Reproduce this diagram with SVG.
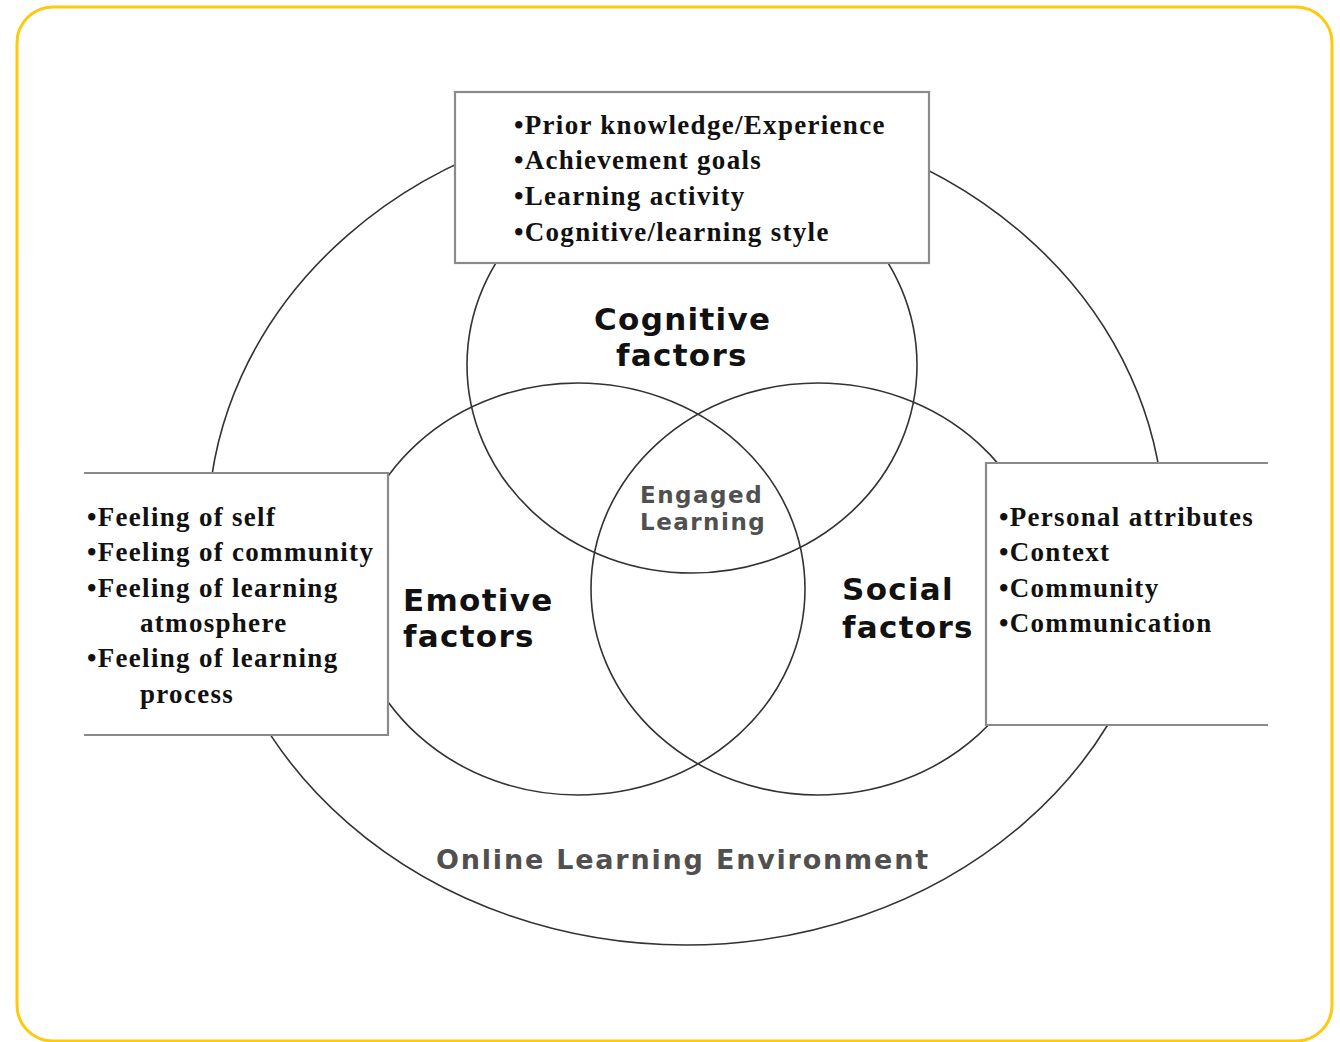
<svg xmlns="http://www.w3.org/2000/svg" width="1340" height="1042" viewBox="0 0 1340 1042">
<style>
.ring{fill:none;stroke:#333;stroke-width:1.6}
.box{fill:#fff;stroke:#8a8a8a;stroke-width:2.2}
.list{font-family:"Liberation Serif","Times New Roman",serif;font-weight:bold;font-size:27px;letter-spacing:1.3px;fill:#111}
.lab{font-family:"DejaVu Sans",Verdana,sans-serif;font-weight:bold;font-size:31px;letter-spacing:1.3px;fill:#111}
.gray{font-family:"DejaVu Sans",Verdana,sans-serif;font-weight:bold;fill:#505050}
</style>
<rect x="17" y="7" width="1315" height="1034" rx="36" fill="#fff" stroke="#FFC90E" stroke-width="3"/>
<g id="connectors">
<ellipse id="environment" class="ring" cx="686" cy="529" rx="478" ry="416"/>
<ellipse id="cognitive-circle" class="ring" cx="692" cy="365" rx="225" ry="208"/>
<ellipse id="emotive-circle" class="ring" cx="578" cy="589" rx="227" ry="206"/>
<ellipse id="social-circle" class="ring" cx="818" cy="589" rx="227" ry="206"/>
</g>
<g id="cognitive-box">
<rect class="box" x="455" y="92" width="474" height="171"/>
<text class="list"><tspan x="514" y="134">•Prior knowledge/Experience</tspan><tspan x="514" y="169">•Achievement goals</tspan><tspan x="514" y="205">•Learning activity</tspan><tspan x="514" y="241">•Cognitive/learning style</tspan></text>
</g>
<g id="emotive-box">
<path class="box" d="M84 473 H388 V735 H84"/>
<text class="list"><tspan x="87" y="526">•Feeling of self</tspan><tspan x="87" y="561">•Feeling of community</tspan><tspan x="87" y="597">•Feeling of learning</tspan><tspan x="140" y="632">atmosphere</tspan><tspan x="87" y="667">•Feeling of  learning</tspan><tspan x="140" y="703">process</tspan></text>
</g>
<g id="social-box">
<path class="box" d="M1268 463 H986 V725 H1268"/>
<text class="list"><tspan x="999" y="526">•Personal attributes</tspan><tspan x="999" y="561">•Context</tspan><tspan x="999" y="597">•Community</tspan><tspan x="999" y="632">•Communication</tspan></text>
</g>
<g id="cognitive-label"><text class="lab"><tspan x="594" y="330">Cognitive</tspan><tspan x="616" y="366">factors</tspan></text></g>
<g id="emotive-label"><text class="lab"><tspan x="403" y="611">Emotive</tspan><tspan x="403" y="647">factors</tspan></text></g>
<g id="social-label"><text class="lab"><tspan x="842" y="600">Social</tspan><tspan x="842" y="638">factors</tspan></text></g>
<g id="engaged-label"><text class="gray" font-size="23" letter-spacing="1.5"><tspan x="640" y="503">Engaged</tspan><tspan x="640" y="530">Learning</tspan></text></g>
<g id="environment-label"><text class="gray" font-size="27" letter-spacing="1.8" x="436" y="869">Online Learning Environment</text></g>
</svg>
